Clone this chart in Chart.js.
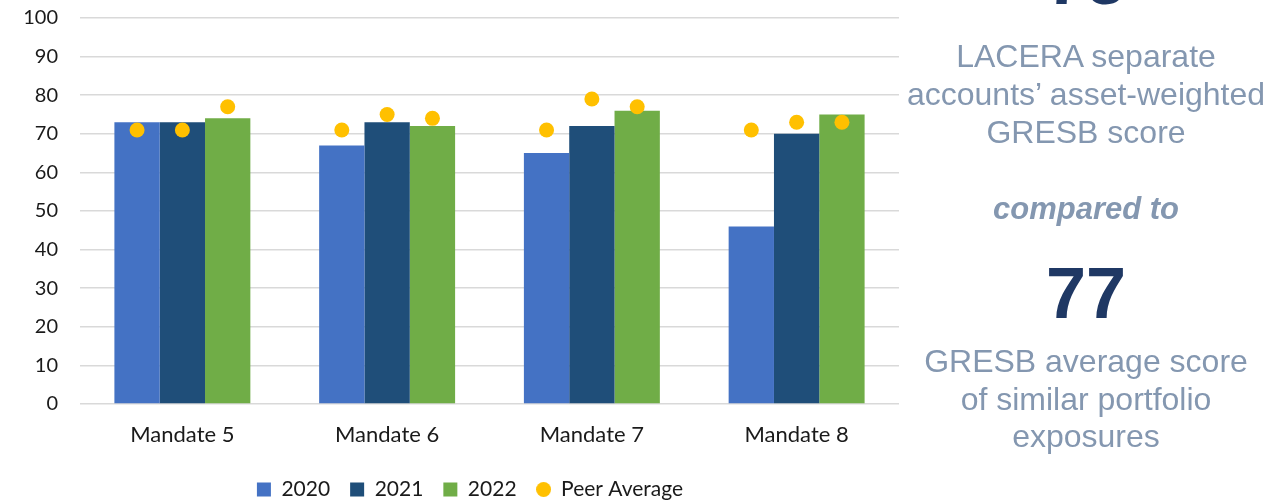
<!DOCTYPE html>
<html>
<head>
<meta charset="utf-8">
<script src="https://cdn.jsdelivr.net/npm/chart.js@4/dist/chart.umd.min.js"></script>
<style>
  html, body { margin: 0; padding: 0; background: #ffffff; overflow: hidden; }
  body { width: 1269px; height: 501px; position: relative; }
  #wrap { position: absolute; left: 0; top: -16px; width: 940px; height: 526px; }
  .side { position: absolute; left: 900px; width: 372px; text-align: center;
          font-family: "Liberation Sans", Arial, sans-serif; color: #8497b0; }
  .big { font-size: 72px; line-height: 72px; font-weight: bold; color: #1f3864; }
  .txt { font-size: 32px; line-height: 38px; }
  .cmp { font-size: 31px; line-height: 38px; font-weight: bold; font-style: italic; }
</style>
</head>
<body>
<div id="wrap"><canvas id="chart"></canvas></div>

<div class="side big" style="top:-57px">75</div>
<div class="side txt" style="top:37px">LACERA separate<br>accounts’ asset-weighted<br>GRESB score</div>
<div class="side cmp" style="top:190px">compared to</div>
<div class="side big" style="top:257px">77</div>
<div class="side txt" style="top:343px;line-height:37.5px">GRESB average score<br>of similar portfolio<br>exposures</div>

<script>
// Categories and series
const categories = ['Mandate 5', 'Mandate 6', 'Mandate 7', 'Mandate 8'];
const years = ['2020', '2021', '2022'];
const scores2020 = [73, 67, 65, 46];
const scores2021 = [73, 73, 72, 70];
const scores2022 = [74, 72, 76, 75];
// Peer average score for each mandate and year
const peer2020 = [71, 71, 71, 71];
const peer2021 = [71, 75, 79, 73];
const peer2022 = [77, 74, 77, 73];
const yTicks = [0, 10, 20, 30, 40, 50, 60, 70, 80, 90, 100];

const yearColors = ['#4472c4', '#1f4e79', '#70ad47'];
const peerColor = '#ffc000';
const peerByYear = [peer2020, peer2021, peer2022];

// small circle used as the legend marker for the peer series
function circleMarker(d, color) {
  const c = document.createElement('canvas');
  c.width = d; c.height = d;
  const g = c.getContext('2d');
  g.fillStyle = color;
  g.beginPath();
  g.arc(d / 2, d / 2, d / 2, 0, Math.PI * 2);
  g.fill();
  return c;
}

// draws the peer-average dots over the centre of each year's bar
const peerDots = {
  id: 'peerDots',
  afterDatasetsDraw(chart) {
    const ctx = chart.ctx;
    const y = chart.scales.y;
    ctx.save();
    ctx.fillStyle = peerColor;
    peerByYear.forEach((vals, k) => {
      const meta = chart.getDatasetMeta(k);
      vals.forEach((v, i) => {
        const bar = meta.data[i];
        ctx.beginPath();
        ctx.arc(bar.x, y.getPixelForValue(v), 7.5, 0, Math.PI * 2);
        ctx.fill();
      });
    });
    ctx.restore();
  }
};

// centres the legend on the span that includes the right-hand gutter
const legendShift = {
  id: 'legendShift',
  afterLayout(chart) {
    const lg = chart.legend;
    if (lg) { lg.left += 20.5; lg.right += 20.5; }
  }
};

const font = { family: 'Lato, "Open Sans", sans-serif', size: 20 };
const catFont = { family: 'Lato, "Open Sans", sans-serif', size: 22 };
const legendFont = { family: 'Lato, "Open Sans", sans-serif', size: 21 };

new Chart(document.getElementById('chart'), {
  type: 'bar',
  data: {
    labels: categories,
    datasets: [
      { label: years[0], data: scores2020, backgroundColor: yearColors[0], pointStyle: 'rect' },
      { label: years[1], data: scores2021, backgroundColor: yearColors[1], pointStyle: 'rect' },
      { label: years[2], data: scores2022, backgroundColor: yearColors[2], pointStyle: 'rect' },
      { type: 'line', label: 'Peer Average', data: [], showLine: false,
        backgroundColor: peerColor, borderColor: peerColor,
        pointStyle: circleMarker(15, peerColor) }
    ]
  },
  options: {
    responsive: true,
    maintainAspectRatio: false,
    animation: false,
    categoryPercentage: 0.664,
    barPercentage: 1.0,
    layout: { padding: { top: 1, right: 41, left: 0, bottom: 0 } },
    plugins: {
      legend: {
        position: 'bottom',
        labels: {
          usePointStyle: true,
          boxWidth: 14,
          boxHeight: 14,
          padding: 20,
          color: '#1a1a1a',
          font: legendFont
        }
      },
      tooltip: { enabled: false }
    },
    scales: {
      x: {
        grid: { display: false },
        border: { display: false },
        ticks: { color: '#1a1a1a', font: catFont, padding: 10 },
        afterFit(scale) { scale.height = 55; }
      },
      y: {
        min: 0,
        max: 100,
        afterBuildTicks(scale) { scale.ticks = yTicks.map(v => ({ value: v })); },
        grid: { color: '#d9d9d9', lineWidth: 1.5, drawTicks: false },
        border: { display: false },
        ticks: { color: '#1a1a1a', font: font, padding: 22 },
        afterFit(scale) { scale.width = 80; }
      }
    }
  },
  plugins: [peerDots, legendShift]
});
</script>
</body>
</html>
